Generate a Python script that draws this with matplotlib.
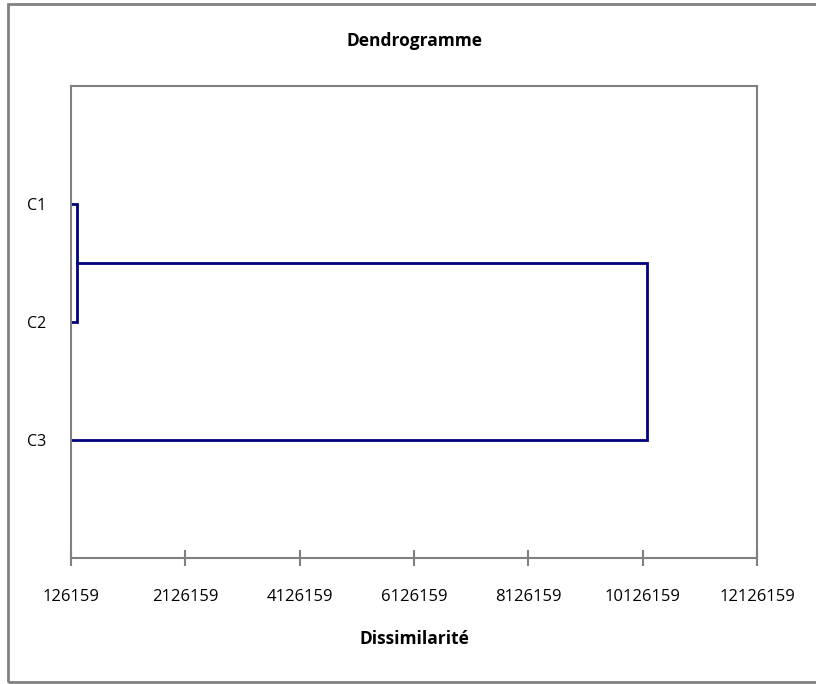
import matplotlib
matplotlib.use("Agg")
import matplotlib.pyplot as plt
import numpy as np

# leaves and agglomeration steps (left, right, dissimilarity)
leaves = ["C1", "C2", "C3"]
leaf_level = 126159
merges = [(0, 1, 226000), (3, 2, 10200000)]
x_ticks = [126159, 2126159, 4126159, 6126159, 8126159, 10126159, 12126159]

line_color = "#000080"
grid_gray = "#808080"
font = "Open Sans"

fig = plt.figure(figsize=(8.16, 6.84), dpi=100)
ax = fig.add_axes([71 / 816, 1 - 558 / 684, 686 / 816, 472 / 684])

# node positions: index -> (y, height)
nodes = {i: (i + 1, leaf_level) for i in range(len(leaves))}
for k, (a, b, h) in enumerate(merges):
    ya, ha = nodes[a]
    yb, hb = nodes[b]
    ax.plot([ha, h, h, hb], [ya, ya, yb, yb], color=line_color, linewidth=2,
            solid_joinstyle="miter", clip_on=False)
    nodes[len(leaves) + k] = ((ya + yb) / 2, h)

ax.set_xlim(x_ticks[0], x_ticks[-1])
ax.set_ylim(len(leaves) + 1, 0)
ax.set_xticks(x_ticks)
ax.set_xticklabels([str(t) for t in x_ticks], fontname=font, fontsize=12)
ax.set_yticks(range(1, len(leaves) + 1))
ax.set_yticklabels(leaves, fontname=font, fontsize=11.5)

ax.tick_params(axis="x", direction="inout", length=12, width=1.5,
               color=grid_gray, pad=16)
ax.tick_params(axis="y", length=0, pad=18)

for spine in ax.spines.values():
    spine.set_color(grid_gray)
    spine.set_linewidth(1.5)

ax.set_title("Dendrogramme", fontname=font, fontsize=12.5, fontweight="bold",
             pad=29)
ax.set_xlabel("Dissimilarité", fontname=font, fontsize=12.5, fontweight="bold",
              labelpad=18)

# outer chart frame
frame = plt.Rectangle((8 / 816, 2 / 684), 1.2, 1 - 6 / 684,
                      transform=fig.transFigure, fill=False,
                      edgecolor=grid_gray, linewidth=2, clip_on=False)
fig.add_artist(frame)

fig.savefig("out.png", dpi=100)
